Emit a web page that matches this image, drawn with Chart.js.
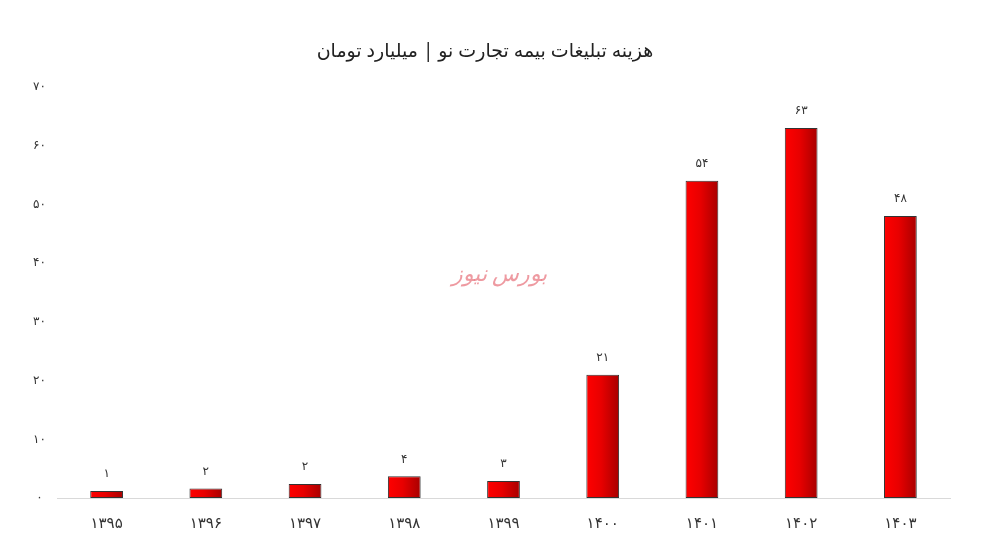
<!DOCTYPE html>
<html>
<head>
<meta charset="utf-8">
<script src="https://cdn.jsdelivr.net/npm/chart.js@4.4.1/dist/chart.umd.min.js"></script>
<style>
    html, body { margin: 0; padding: 0; background: #ffffff; }
    #wrap { width: 992px; height: 557px; }
</style>
</head>
<body>
<div id="wrap"><canvas id="costChart"></canvas></div>
<script>
// data
const years = ['۱۳۹۵', '۱۳۹۶', '۱۳۹۷', '۱۳۹۸', '۱۳۹۹', '۱۴۰۰', '۱۴۰۱', '۱۴۰۲', '۱۴۰۳'];
const costs = [1.2, 1.6, 2.4, 3.7, 2.9, 21, 54, 63, 48];
const yTicks = [0, 10, 20, 30, 40, 50, 60, 70];
const titleText = 'هزینه تبلیغات بیمه تجارت نو | میلیارد تومان';
const watermark = 'بورس نیوز';

const fontFamily = "'Noto Sans', 'DejaVu Sans', sans-serif";
const faDigits = '۰۱۲۳۴۵۶۷۸۹';
function toFa(n) {
    return String(n).replace(/\d/g, d => faDigits[d]);
}

const barPct = 0.33;

// horizontal red gradient for each bar
function barGradient(context) {
    const chart = context.chart;
    if (!chart.chartArea) return '#e00000';
    const xs = chart.scales.x;
    const cx = xs.getPixelForValue(context.dataIndex);
    const w = xs.width / years.length * barPct;
    const g = chart.ctx.createLinearGradient(cx - w / 2, 0, cx + w / 2, 0);
    g.addColorStop(0, '#ff0000');
    g.addColorStop(0.45, '#e80000');
    g.addColorStop(1, '#a80000');
    return g;
}

// value labels over bars + watermark
const labelPlugin = {
    id: 'barLabels',
    afterDatasetsDraw(chart) {
        const ctx = chart.ctx;
        const meta = chart.getDatasetMeta(0);
        ctx.save();
        ctx.font = '12px ' + fontFamily;
        ctx.fillStyle = '#333333';
        ctx.textAlign = 'center';
        ctx.textBaseline = 'middle';
        meta.data.forEach((bar, i) => {
            ctx.fillText(toFa(Math.round(costs[i])), bar.x, bar.y - 17);
        });
        ctx.font = 'italic 22px ' + fontFamily;
        ctx.fillStyle = 'rgba(232, 120, 130, 0.75)';
        const xs = chart.scales.x, ys = chart.scales.y;
        ctx.fillText(watermark, (xs.left + xs.right) / 2 - 4, ys.getPixelForValue(38));
        ctx.restore();
    }
};

const costCtx = document.getElementById('costChart').getContext('2d');
new Chart(costCtx, {
    type: 'bar',
    data: {
        labels: years,
        datasets: [{
            data: costs,
            backgroundColor: barGradient,
            borderColor: '#333333',
            borderWidth: 1,
            borderSkipped: false,
            barPercentage: barPct,
            categoryPercentage: 1
        }]
    },
    options: {
        responsive: true,
        maintainAspectRatio: false,
        animation: false,
        layout: {
            padding: { left: 20, right: 42, top: 40, bottom: 15 }
        },
        plugins: {
            legend: { display: false },
            tooltip: { enabled: false },
            title: {
                display: true,
                text: titleText,
                color: '#222222',
                font: { size: 19, family: fontFamily, weight: 'normal' },
                padding: { top: 0, bottom: 24 }
            }
        },
        scales: {
            x: {
                grid: { display: false },
                border: { display: true, color: '#d9d9d9', width: 1 },
                ticks: {
                    color: '#333333',
                    padding: 9,
                    font: { size: 15, family: fontFamily }
                }
            },
            y: {
                min: 0,
                max: 70,
                afterFit(scale) { scale.width = 37; },
                afterBuildTicks(scale) {
                    scale.ticks = yTicks.map(v => ({ value: v }));
                },
                grid: { display: false },
                border: { display: false },
                ticks: {
                    color: '#333333',
                    crossAlign: 'center',
                    font: { size: 12, family: fontFamily },
                    callback: v => toFa(v)
                }
            }
        }
    },
    plugins: [labelPlugin]
});
</script>
</body>
</html>
